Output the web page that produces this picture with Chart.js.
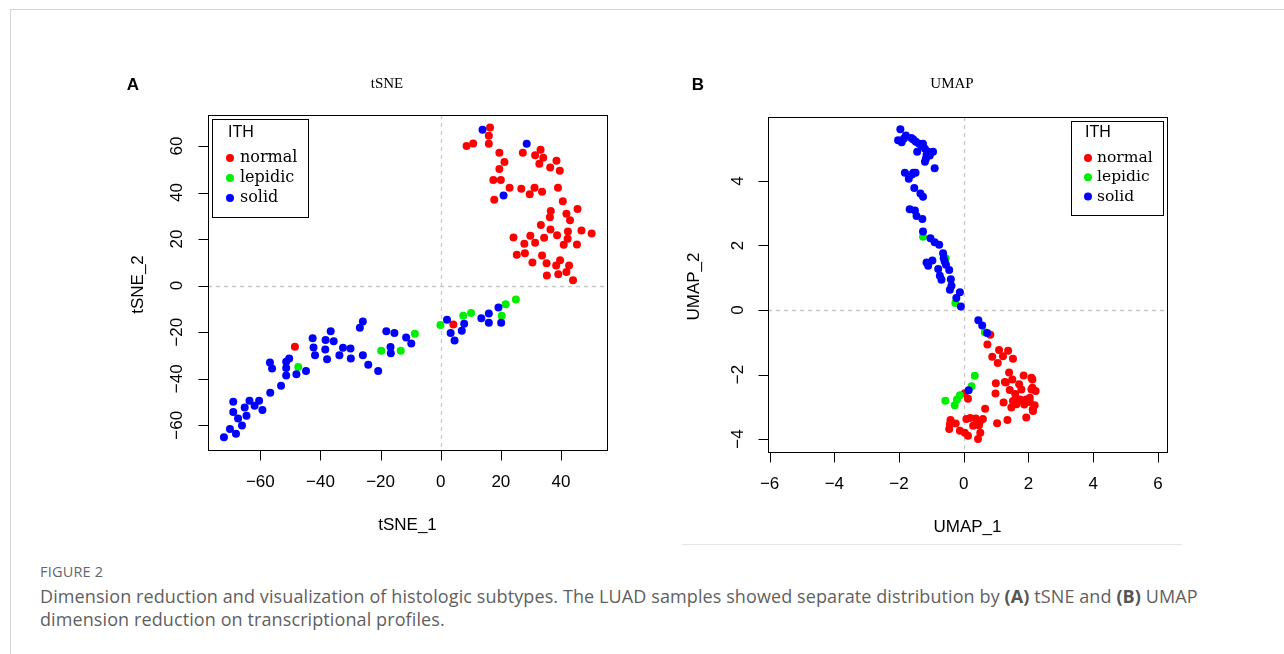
<!DOCTYPE html>
<html>
<head>
<meta charset="utf-8">
<script src="https://cdn.jsdelivr.net/npm/chart.js@4.4.1/dist/chart.umd.min.js"></script>
<style>
  html, body { margin: 0; padding: 0; background: #fff; }
  #page { position: relative; width: 1284px; height: 654px; overflow: hidden; background: #fff; }
  .frame { position: absolute; left: 10px; top: 9px; right: -2px; bottom: -2px;
           border-top: 1px solid #d4d4d4; border-left: 1px solid #d4d4d4; }
  .panel { position: absolute; top: 60px; width: 540px; height: 490px; }
  #panelA { left: 100px; }
  #panelB { left: 660px; }
  .rule { position: absolute; left: 682px; top: 544px; width: 500px; height: 1px; background: #e4e4e4; }
  .cap-head { position: absolute; left: 40px; top: 562px; font: 14.5px "Open Sans", sans-serif;
              color: #666; letter-spacing: 0.2px; }
  .cap { position: absolute; left: 40px; top: 585px; width: 1235px; font: 18px/23px "Open Sans", sans-serif;
         color: #5f5f5f; letter-spacing: 0.1px; }
  .cap b { font-weight: 700; color: #555; }
</style>
</head>
<body>
<div id="page">
  <div class="frame"></div>
  <div class="panel" id="panelA"><canvas id="tsne" width="540" height="490"></canvas></div>
  <div class="panel" id="panelB"><canvas id="umap" width="540" height="490"></canvas></div>
  <div class="rule"></div>
  <div class="cap-head">FIGURE 2</div>
  <div class="cap">Dimension reduction and visualization of histologic subtypes. The LUAD samples showed separate distribution by <b>(A)</b> tSNE and <b>(B)</b> UMAP<br>dimension reduction on transcriptional profiles.</div>
</div>

<script>
// ── Data ─────────────────────────────────────────────────────────────────────

const groups = ['normal', 'lepidic', 'solid'];
const groupColors = ['#ff0000', '#00ee00', '#0000ff'];

// tSNE coordinates [tSNE_1, tSNE_2]
const tsneNormal = [
  [16.4,67.9],[16.0,64.4],[16.0,61.0],[8.6,60.0],[10.8,61.1],[19.5,57.1],[21.2,53.1],[19.5,50.1],
  [17.5,45.4],[20.0,45.4],[17.8,36.9],[22.9,42.0],[26.8,41.6],[27.3,57.1],[33.2,58.4],[31.4,56.0],
  [34.1,54.9],[32.8,52.4],[36.4,50.7],[38.5,53.6],[39.6,49.3],[31.2,42.1],[29.6,39.3],[33.7,40.3],
  [39.0,42.1],[40.6,36.3],[36.6,32.1],[36.3,29.4],[41.8,30.9],[43.0,28.1],[45.5,32.9],[33.3,26.0],
  [36.5,24.1],[42.3,23.3],[38.7,21.7],[46.8,23.7],[50.2,22.4],[42.2,20.1],[45.3,17.7],[40.9,17.6],
  [24.2,20.7],[29.8,21.4],[27.8,18.0],[31.4,18.4],[34.4,20.6],[25.3,13.3],[28.0,13.9],[30.5,9.9],
  [33.7,12.9],[35.2,9.6],[39.7,10.9],[38.4,8.6],[42.7,8.7],[35.3,4.4],[39.1,4.9],[41.8,5.9],
  [44.0,2.3],[-48.5,-26.3],[4.2,-16.7]
];
const tsneLepidic = [
  [-47.4,-35.0],[-19.8,-28.0],[-13.3,-28.0],[-8.6,-20.7],[-0.1,-16.9],[7.5,-12.9],[10.1,-11.7],
  [20.3,-12.9],[21.6,-8.0],[25.0,-5.9]
];
const tsneSolid = [
  [13.9,67.0],[28.6,61.0],[20.9,38.7],
  [-72.1,-65.1],[-70.1,-61.6],[-68.1,-63.6],[-66.1,-60.1],[-67.4,-57.1],[-64.6,-55.9],[-69.0,-54.3],
  [-69.0,-49.9],[-65.2,-52.3],[-63.6,-49.4],[-61.9,-51.6],[-60.4,-49.4],[-59.3,-53.4],[-56.7,-46.0],
  [-53.1,-43.0],[-56.8,-33.0],[-56.1,-35.6],[-51.4,-35.4],[-51.4,-32.7],[-50.4,-31.3],[-51.4,-38.6],
  [-48.0,-38.1],[-44.8,-36.7],[-42.6,-22.6],[-42.3,-26.6],[-41.8,-29.9],[-38.3,-23.4],[-38.4,-27.4],
  [-37.8,-31.6],[-36.6,-19.6],[-35.6,-23.9],[-33.7,-29.9],[-32.5,-26.7],[-30.0,-27.0],[-29.9,-31.3],
  [-26.9,-18.1],[-25.9,-15.4],[-25.9,-29.9],[-24.1,-34.0],[-20.8,-36.7],[-18.1,-19.6],[-15.4,-20.3],
  [-16.7,-26.4],[-16.6,-29.0],[-11.5,-22.3],[-9.8,-24.9],[2.1,-14.6],[3.3,-20.3],[4.6,-23.6],
  [7.0,-19.4],[7.8,-16.4],[13.5,-14.0],[16.0,-12.0],[16.0,-15.9],[19.2,-9.4],[20.1,-15.9]
];

// UMAP coordinates [UMAP_1, UMAP_2]
const umapNormal = [
  [0.82,-0.77],[0.73,-1.07],[0.88,-1.45],[1.09,-1.24],[1.37,-1.26],[1.21,-1.43],[1.05,-1.64],
  [1.52,-1.51],[1.40,-1.94],[1.50,-2.15],[1.85,-2.03],[2.09,-2.10],[0.99,-2.27],[1.30,-2.25],
  [1.42,-2.48],[1.71,-2.30],[1.78,-2.46],[2.09,-2.46],[2.22,-2.51],[0.98,-2.59],[1.74,-2.77],
  [1.52,-2.82],[1.93,-2.77],[1.23,-2.87],[1.63,-2.92],[2.04,-2.85],[2.19,-2.95],[1.47,-3.02],
  [2.14,-3.13],[1.93,-3.33],[1.35,-3.41],[1.03,-3.51],[0.66,-3.06],[0.13,-2.75],[0.03,-2.58],
  [-0.41,-3.41],[-0.45,-3.69],[-0.25,-3.52],[0.08,-3.38],[-0.12,-3.74],[0.13,-3.90],[0.03,-3.80],
  [0.37,-3.36],[0.59,-3.38],[0.49,-3.48],[0.47,-3.57],[0.51,-3.80],[0.44,-4.00],[-0.43,-3.54],
  [2.12,-2.15],[1.27,-2.23],[2.12,-2.41],[2.04,-2.72],[1.68,-2.80],[1.87,-2.93],[2.13,-3.08],
  [0.29,-3.59],[0.20,-3.35],[1.59,-2.60]
];
const umapLepidic = [
  [-1.26,2.27],[-0.56,1.60],[-0.26,0.22],[0.65,-0.69],[0.34,-2.04],[0.24,-2.36],[-0.12,-2.64],
  [-0.21,-2.77],[-0.28,-2.95],[-0.57,-2.81]
];
const umapSolid = [
  [-1.96,5.60],[-2.03,5.26],[-1.92,5.20],[-1.79,5.41],[-1.85,5.31],[-1.56,5.28],[-1.48,5.21],
  [-1.38,5.15],[-1.26,5.15],[-1.44,4.90],[-1.20,5.00],[-1.10,4.90],[-0.95,4.90],[-1.05,4.79],
  [-1.17,4.69],[-1.20,4.59],[-0.90,4.39],[-1.82,4.25],[-1.70,4.07],[-1.56,4.25],[-1.49,4.25],
  [-1.53,3.78],[-1.34,3.61],[-1.26,3.51],[-1.67,3.12],[-1.51,3.08],[-1.46,2.91],[-1.28,2.82],
  [-1.26,2.43],[-1.03,2.22],[-0.90,2.10],[-0.76,2.02],[-0.64,1.76],[-0.62,1.60],[-1.15,1.47],
  [-1.10,1.37],[-0.97,1.53],[-0.79,1.27],[-0.74,1.06],[-0.69,0.94],[-0.45,1.24],[-0.59,1.50],
  [-0.38,0.75],[-0.43,0.63],[-0.12,0.55],[-0.23,0.37],[-0.09,0.11],[0.45,-0.32],[0.57,-0.48],
  [0.72,-0.71],[0.15,-2.49],[-1.62,5.33],[-1.30,5.08],[-1.15,4.80],[-1.60,4.20],[-1.10,1.45],
  [-0.55,1.40],[-0.40,0.95]
];

const tsneXTicks = [-60, -40, -20, 0, 20, 40];
const tsneYTicks = [-60, -40, -20, 0, 20, 40, 60];
const umapXTicks = [-6, -4, -2, 0, 2, 4, 6];
const umapYTicks = [-4, -2, 0, 2, 4];

// ── R-style frame: box, axes, dashed origin lines, titles, legend ────────────

const SANS = '"Liberation Sans", Arial, sans-serif';
const fmt = v => (v < 0 ? '\u2212' + Math.abs(v) : String(v));

const rFrame = {
  id: 'rFrame',
  beforeDatasetsDraw(chart, args, o) {
    const { ctx, chartArea: a, scales: { x, y } } = chart;
    const x0 = Math.round(x.getPixelForValue(0)) + 0.5;
    const y0 = Math.round(y.getPixelForValue(0)) + 0.5;
    ctx.save();
    ctx.strokeStyle = '#c8c8c8';
    ctx.lineWidth = 1.3;
    ctx.setLineDash([4, 4]);
    ctx.beginPath();
    ctx.moveTo(x0, a.top); ctx.lineTo(x0, a.bottom);
    ctx.moveTo(a.left, y0); ctx.lineTo(a.right, y0);
    ctx.stroke();
    ctx.restore();
  },
  afterDraw(chart, args, o) {
    const { ctx, chartArea: a, scales: { x, y } } = chart;
    ctx.save();
    ctx.strokeStyle = '#000';
    ctx.fillStyle = '#000';
    ctx.lineWidth = 1;

    // plot box
    ctx.strokeRect(Math.round(a.left) + 0.5, Math.round(a.top) + 0.5,
                   Math.round(a.right - a.left), Math.round(a.bottom - a.top));

    // x axis
    ctx.font = `17px ${SANS}`;
    ctx.textAlign = 'center';
    ctx.textBaseline = 'middle';
    const xb = Math.round(a.bottom) + 0.5;
    ctx.beginPath();
    o.xTicks.forEach(t => {
      const px = Math.round(x.getPixelForValue(t)) + 0.5;
      ctx.moveTo(px, xb); ctx.lineTo(px, xb + 10);
    });
    ctx.stroke();
    o.xTicks.forEach(t => ctx.fillText(fmt(t), x.getPixelForValue(t), a.bottom + 32.5));

    // y axis (labels parallel to the axis)
    const yl = Math.round(a.left) + 0.5;
    ctx.beginPath();
    o.yTicks.forEach(t => {
      const py = Math.round(y.getPixelForValue(t)) + 0.5;
      ctx.moveTo(yl, py); ctx.lineTo(yl - 10, py);
    });
    ctx.stroke();
    o.yTicks.forEach(t => {
      ctx.save();
      ctx.translate(a.left - o.yLabelGap, y.getPixelForValue(t));
      ctx.rotate(-Math.PI / 2);
      ctx.fillText(fmt(t), 0, 0);
      ctx.restore();
    });

    // axis titles
    ctx.fillText(o.xTitle, (a.left + a.right) / 2, a.bottom + 75);
    ctx.save();
    ctx.translate(o.yTitleX, (a.top + a.bottom) / 2 + 2);
    ctx.rotate(-Math.PI / 2);
    ctx.fillText(o.yTitle, 0, 0);
    ctx.restore();

    // main title and panel letter
    ctx.font = '15px "Liberation Serif", "Times New Roman", serif';
    ctx.fillText(o.title, o.titleX, 24);
    ctx.font = `bold 17px ${SANS}`;
    ctx.fillText(o.letter, o.letterX, 25);

    // legend
    const L = o.legend;
    const lx = L.right ? a.right - L.inset - L.w : a.left + L.inset;
    const ly = a.top + L.inset;
    ctx.strokeRect(Math.round(lx) + 0.5, Math.round(ly) + 0.5, L.w, L.h);
    ctx.textAlign = 'left';
    ctx.font = `16px ${SANS}`;
    ctx.fillText('ITH', lx + L.titleX, ly + L.titleY);
    ctx.font = `${L.size}px "DejaVu Serif", serif`;
    groups.forEach((g, i) => {
      const cy = ly + L.rowY + i * L.rowGap;
      ctx.fillStyle = groupColors[i];
      ctx.beginPath();
      ctx.arc(lx + L.dotX, cy, 4, 0, Math.PI * 2);
      ctx.fill();
      ctx.fillStyle = '#000';
      ctx.fillText(g, lx + L.textX, cy);
    });
    ctx.restore();
  }
};

// ── Panels ───────────────────────────────────────────────────────────────────

function toPoints(pairs) {
  return pairs.map(([px, py]) => ({ x: px, y: py }));
}

function scatterPanel(canvasId, series, cfg) {
  // solid on top of lepidic on top of normal
  const datasets = series.map((pairs, i) => ({
    label: groups[i],
    data: toPoints(pairs),
    order: series.length - 1 - i,
    backgroundColor: groupColors[i],
    borderWidth: 0,
    pointRadius: 4,
    pointHoverRadius: 4,
  }));
  return new Chart(document.getElementById(canvasId), {
    type: 'scatter',
    data: { datasets },
    options: {
      responsive: false,
      animation: false,
      events: [],
      layout: { padding: cfg.padding },
      plugins: {
        legend: { display: false },
        tooltip: { enabled: false },
        rFrame: cfg.frame,
      },
      scales: {
        x: { type: 'linear', min: cfg.xMin, max: cfg.xMax, display: false },
        y: { type: 'linear', min: cfg.yMin, max: cfg.yMax, display: false },
      },
    },
    plugins: [rFrame],
  });
}

scatterPanel('tsne', [tsneNormal, tsneLepidic, tsneSolid], {
  padding: { left: 108, top: 55, right: 33, bottom: 100 },
  xMin: -77.4, xMax: 55.3, yMin: -70.6, yMax: 73.3,
  frame: {
    xTicks: tsneXTicks, yTicks: tsneYTicks, yLabelGap: 31,
    xTitle: 'tSNE_1', yTitle: 'tSNE_2', yTitleX: 38,
    title: 'tSNE', titleX: 287, letter: 'A', letterX: 33,
    legend: { right: false, inset: 4, w: 96, h: 98, titleX: 16, titleY: 14,
              dotX: 18, textX: 28, rowY: 39, rowGap: 20, size: 16 },
  },
});

scatterPanel('umap', [umapNormal, umapLepidic, umapSolid], {
  padding: { left: 108, top: 57, right: 33, bottom: 98 },
  xMin: -6.05, xMax: 6.28, yMin: -4.40, yMax: 5.98,
  frame: {
    xTicks: umapXTicks, yTicks: umapYTicks, yLabelGap: 30,
    xTitle: 'UMAP_1', yTitle: 'UMAP_2', yTitleX: 34,
    title: 'UMAP', titleX: 292, letter: 'B', letterX: 38,
    legend: { right: true, inset: 4, w: 92, h: 94, titleX: 14, titleY: 12,
              dotX: 17, textX: 26, rowY: 37, rowGap: 19.3, size: 15.5 },
  },
});
</script>
</body>
</html>
